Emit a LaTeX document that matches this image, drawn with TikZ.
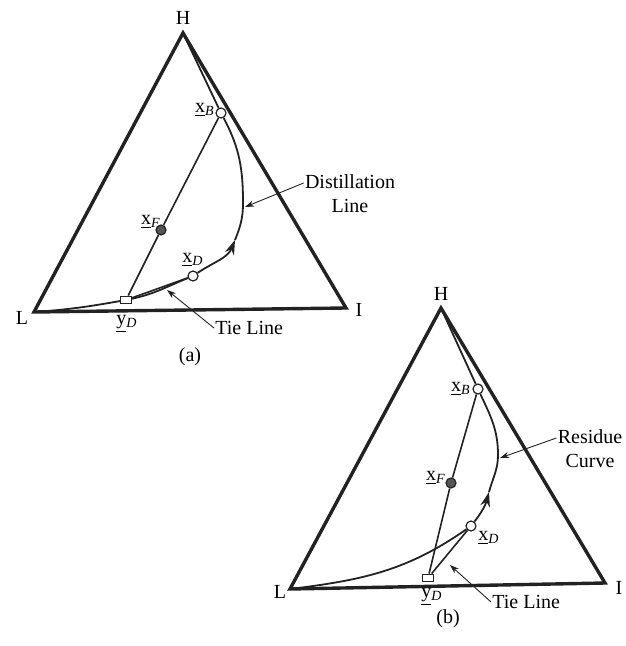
\documentclass[tikz,border=0pt]{standalone}
\usepackage{fontspec}
\setmainfont{Liberation Serif}
\usetikzlibrary{arrows.meta,positioning,calc}
\definecolor{ink}{HTML}{222222}
\definecolor{feed}{HTML}{555555}
\newcommand{\cmp}[2]{\underline{#1}\textsubscript{\textit{#2}}}
\tikzset{
  >={Stealth[length=2.6mm,width=1.7mm]},
  % triangel
  tri/.style={draw=ink,line width=1.7pt,line join=miter},
  vx/.style={font=\normalsize,inner sep=1pt},
  % kurvor
  dl/.style={draw=ink,line width=0.9pt},
  flow/.style={->,draw=ink,line width=0.9pt},
  mb/.style={draw=ink,line width=0.8pt},
  tie/.style={draw=ink,line width=0.8pt},
  % punkter
  pt/.style={circle,draw=ink,fill=white,line width=0.6pt,inner sep=0pt,minimum size=5pt},
  ptf/.style={pt,fill=feed},
  sq/.style={rectangle,draw=ink,fill=white,line width=0.6pt,inner sep=0pt,
             minimum width=5.4pt,minimum height=3.8pt},
  lbl/.style={inner sep=0.5pt},
  ptr/.style={-{Stealth[length=1.6mm,width=1.1mm]},draw=ink,line width=0.45pt},
}
\begin{document}
\begin{tikzpicture}[x=0.5pt,y=-0.5pt]
\useasboundingbox (0,0) rectangle (625,646);
% (a) destillationslinje
  \coordinate (aH) at (183,33);
  \coordinate (aL) at (34,312);
  \coordinate (aI) at (346,308);
  \draw[tri] (aH) -- (aL) -- (aI) -- cycle;
  \node[vx] (aHl) at (183,18) {H};
  \node[vx] (aLl) at (22,318) {L};
  \node[vx] (aIl) at (359,310) {I};
  \node[pt] (axB) at (221,113) {};
  \node[ptf] (axF) at (161,230) {};
  \node[pt] (axD) at (193,276) {};
  \node[sq] (ayD) at (126,300) {};
  \coordinate (aA) at (235,240);
  \coordinate (aR) at (243,203);
  \draw[dl] (aL) to[out=4,in=190] (ayD);
  \draw[dl] (ayD) to[out=12,in=202] (axD);
  \draw[flow] (axD) to[out=34,in=-112] (aA);
  \draw[dl] (aA) to[out=68,in=-90] (aR) to[out=90,in=-62] (axB);
  \draw[dl] (axB) -- (aH);
  \draw[tie] (ayD) -- (axD);
  \draw[mb] (ayD) -- (axF) -- (axB);
  \node[lbl] (axBl) at (205,110) {\cmp{x}{B}};
  \node[lbl] (axFl) at (151,222) {\cmp{x}{F}};
  \node[lbl] (axDl) at (193,260) {\cmp{x}{D}};
  \node[lbl] (ayDl) at (127,324) {\cmp{y}{D}};
  \node[lbl,align=center] (adist) at (350,194) {Distillation\\Line};
  \coordinate (adists) at ($(adist.west)+(0,-11)$);
  \coordinate (adistp) at (245,207);
  \draw[ptr] (adists) -- (adistp);
  \node[lbl,anchor=west] (atie) at (214,328) {Tie Line};
  \coordinate (atiep) at (167,290);
  \draw[ptr] (atie.west) -- (atiep);
  \node (acap) at (190,357) {(a)};
% (b) residukurva
  \coordinate (bH) at (441,308);
  \coordinate (bL) at (290,589);
  \coordinate (bI) at (605,583);
  \draw[tri] (bH) -- (bL) -- (bI) -- cycle;
  \node[vx] (bHl) at (441,294) {H};
  \node[vx] (bLl) at (280,592) {L};
  \node[vx] (bIl) at (619,588) {I};
  \node[pt] (bxB) at (478,389) {};
  \node[ptf] (bxF) at (451,483) {};
  \node[pt] (bxD) at (471,526) {};
  \node[sq] (byD) at (428,578) {};
  \coordinate (bA) at (489,492);
  \coordinate (bR) at (498,455);
  \draw[dl] (bL) to[out=7,in=215] (bxD);
  \draw[flow] (bxD) to[out=52,in=-105] (bA);
  \draw[dl] (bA) to[out=75,in=-90] (bR) to[out=90,in=-65] (bxB);
  \draw[dl] (bxB) -- (bH);
  \draw[tie] (byD) -- (bxD);
  \draw[mb] (byD) -- (bxF) -- (bxB);
  \node[lbl] (bxBl) at (461,389) {\cmp{x}{B}};
  \node[lbl] (bxFl) at (436,478) {\cmp{x}{F}};
  \node[lbl] (bxDl) at (489,538) {\cmp{x}{D}};
  \node[lbl] (byDl) at (432,597) {\cmp{y}{D}};
  \node[lbl,align=center] (bres) at (590,449) {Residue\\Curve};
  \coordinate (bress) at ($(bres.west)+(0,-11)$);
  \coordinate (bresp) at (500,458);
  \draw[ptr] (bress) -- (bresp);
  \node[lbl,anchor=west] (btie) at (491,602) {Tie Line};
  \coordinate (btiep) at (450,565);
  \draw[ptr] (btie.west) -- (btiep);
  \node (bcap) at (448,619) {(b)};
\end{tikzpicture}
\end{document}
